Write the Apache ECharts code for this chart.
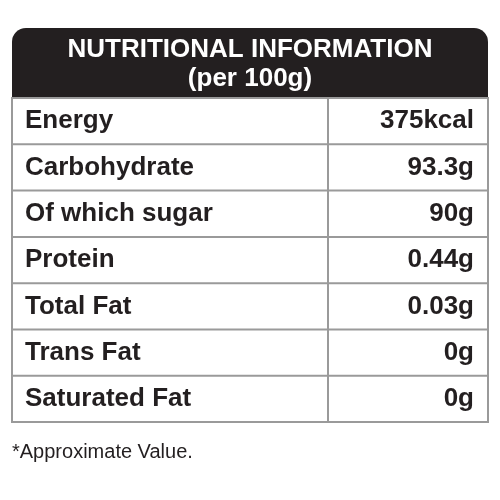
<!DOCTYPE html>
<html>
<head>
<meta charset="utf-8">
<script src="https://cdn.jsdelivr.net/npm/echarts@6/dist/echarts.min.js"></script>
<style>html,body{margin:0;padding:0;background:#fff}#main{width:500px;height:500px}</style>
</head>
<body>
<div id="main"></div>
<script>
const titleLines = ["NUTRITIONAL INFORMATION", "(per 100g)"]
const nutrients = ["Energy", "Carbohydrate", "Of which sugar", "Protein", "Total Fat", "Trans Fat", "Saturated Fat"]
const amounts = ["375kcal", "93.3g", "90g", "0.44g", "0.03g", "0g", "0g"]
const footnote = "*Approximate Value."

const chart = echarts.init(document.getElementById('main'))
const boxL = 12, boxR = 488, boxT = 28, headH = 70, rowH = 46.3, divX = 328
const font = 'Liberation Sans, Arial, sans-serif'
const els = []
// header block
els.push({type:'rect', shape:{x:boxL, y:boxT, width:boxR-boxL, height:headH+6, r:[14,14,0,0]}, style:{fill:'#231f20'}})
titleLines.forEach((t,i)=>{
  els.push({type:'text', style:{text:t, x:250, y:boxT+22+i*29, align:'center', verticalAlign:'middle',
    fill:'#fff', font:'bold 26px '+font}})
})
const tTop = boxT+headH
const tBot = tTop + rowH*nutrients.length
els.push({type:'rect', shape:{x:boxL, y:tTop, width:boxR-boxL, height:tBot-tTop}, style:{fill:'#fff', stroke:'#9a9a9a', lineWidth:2}})
els.push({type:'line', shape:{x1:divX, y1:tTop, x2:divX, y2:tBot}, style:{stroke:'#9a9a9a', lineWidth:2}})
nutrients.forEach((n,i)=>{
  const yc = tTop + rowH*i + rowH/2
  if(i>0) els.push({type:'line', shape:{x1:boxL, y1:tTop+rowH*i, x2:boxR, y2:tTop+rowH*i}, style:{stroke:'#9a9a9a', lineWidth:2}})
  els.push({type:'text', style:{text:n, x:25, y:yc, verticalAlign:'middle', fill:'#231f20', font:'bold 26px '+font}})
  els.push({type:'text', style:{text:amounts[i], x:474, y:yc, align:'right', verticalAlign:'middle', fill:'#231f20', font:'bold 26px '+font}})
})
els.push({type:'text', style:{text:footnote, x:12, y:452, verticalAlign:'middle', fill:'#231f20', font:'20px '+font}})
chart.setOption({animation:false, graphic:{elements:els}})
</script>
</body>
</html>
